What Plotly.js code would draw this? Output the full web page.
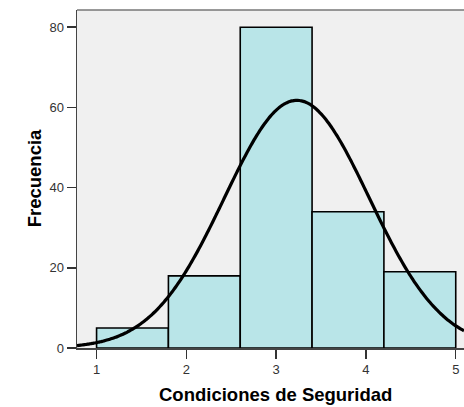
<!DOCTYPE html>
<html>
<head>
<meta charset="utf-8">
<script src="https://cdn.plot.ly/plotly-3.0.1.min.js"></script>
<style>
  html, body { margin: 0; padding: 0; background: #ffffff; }
  #chart { width: 464px; height: 407px; }
</style>
</head>
<body>
<div id="chart"></div>
<script>
// Histogram bins (centre of each bin) and the counts in them
const binCenters = [1.4, 2.2, 3.0, 3.8, 4.6];
const counts = [5, 18, 80, 34, 19];
const binWidth = 0.8;

// Normal curve fitted to the sample
const sampleMean = 3.23;
const sampleSd = 0.806;
const sampleN = 156;

const xTicks = [1, 2, 3, 4, 5];
const yTicks = [0, 20, 40, 60, 80];

const xTitle = 'Condiciones de Seguridad';
const yTitle = 'Frecuencia';

const xRange = [0.782, 5.092];
const yRange = [0, 84.3];

// Normal density scaled to counts per bin
const curveX = [];
const curveY = [];
const steps = 200;
for (let i = 0; i <= steps; i++) {
  const x = xRange[0] + (xRange[1] - xRange[0]) * i / steps;
  const z = (x - sampleMean) / sampleSd;
  const y = sampleN * binWidth / (sampleSd * Math.sqrt(2 * Math.PI)) * Math.exp(-0.5 * z * z);
  curveX.push(x);
  curveY.push(y);
}

const bars = {
  type: 'bar',
  x: binCenters,
  y: counts,
  width: binWidth,
  marker: { color: '#b9e5e8', line: { color: '#000000', width: 1.6 } },
  hoverinfo: 'x+y'
};

const curve = {
  type: 'scatter',
  mode: 'lines',
  x: curveX,
  y: curveY,
  line: { color: '#000000', width: 3.2, shape: 'spline' },
  hoverinfo: 'skip',
  cliponaxis: true
};

const tickFont = { family: 'Liberation Sans, Arial, sans-serif', size: 13, color: '#333333' };
const titleFont = { family: 'Liberation Sans, Arial, sans-serif', size: 18.5, color: '#000000', weight: 'bold' };

const layout = {
  width: 464,
  height: 407,
  margin: { l: 77, r: 0, t: 10, b: 59 },
  paper_bgcolor: '#ffffff',
  plot_bgcolor: '#f0f0f0',
  showlegend: false,
  bargap: 0,
  xaxis: {
    range: xRange,
    tickvals: xTicks,
    ticktext: xTicks.map(String),
    ticks: 'outside',
    ticklen: 9,
    tickwidth: 1.5,
    tickcolor: '#333333',
    showline: true,
    linecolor: '#444444',
    linewidth: 1.5,
    showgrid: false,
    zeroline: false,
    tickfont: tickFont
  },
  yaxis: {
    range: yRange,
    tickvals: yTicks,
    ticktext: yTicks.map(String),
    ticks: 'outside',
    ticklen: 9,
    tickwidth: 1.5,
    tickcolor: '#333333',
    showline: true,
    linecolor: '#444444',
    linewidth: 1.5,
    showgrid: false,
    zeroline: false,
    tickfont: tickFont
  },
  annotations: [
    {
      text: '<b>' + xTitle + '</b>', font: titleFont, showarrow: false,
      xref: 'paper', yref: 'paper', x: 0.5134, y: 0,
      xanchor: 'center', yanchor: 'top', yshift: -34
    },
    {
      text: '<b>' + yTitle + '</b>', font: titleFont, showarrow: false, textangle: -90,
      xref: 'paper', yref: 'paper', x: 0, y: 0.502,
      xanchor: 'center', yanchor: 'middle', xshift: -43
    }
  ],
  shapes: [
    {
      type: 'line', xref: 'paper', yref: 'paper',
      x0: 0, x1: 1, y0: 1, y1: 1,
      line: { color: '#777777', width: 1.5 }
    }
  ]
};

Plotly.newPlot('chart', [bars, curve], layout, { displayModeBar: false, staticPlot: true });
</script>
</body>
</html>
